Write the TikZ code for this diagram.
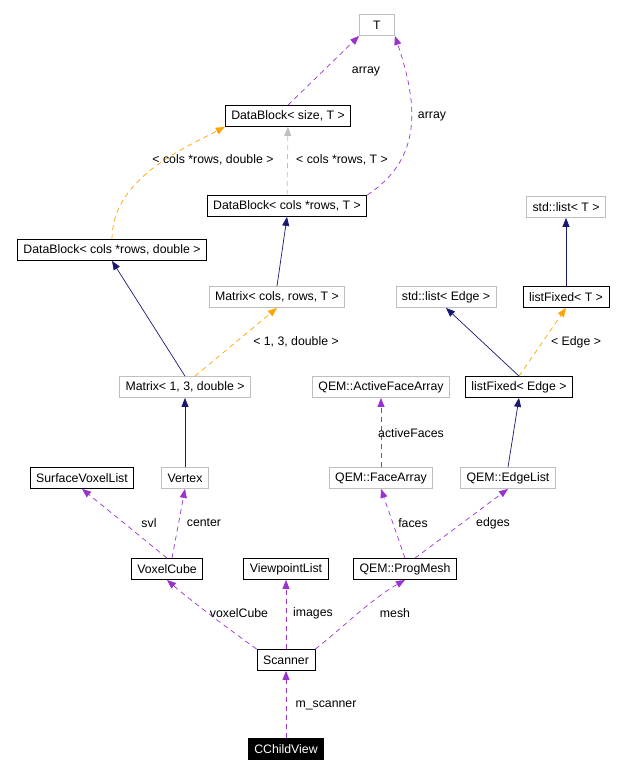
\documentclass[tikz,border=0pt]{standalone}
\usepackage{fontspec}
\setmainfont{Liberation Sans}
\usetikzlibrary{arrows.meta}
\definecolor{pur}{HTML}{9A32CD}
\definecolor{nav}{HTML}{191970}
\definecolor{org}{HTML}{FFA500}
\definecolor{gr}{HTML}{BFBFBF}
\begin{document}
\begin{tikzpicture}[x=1pt,y=-1pt,font=\fontsize{12.3}{14}\selectfont,
  b/.style={draw=black,minimum height=21pt,inner xsep=6pt,inner ysep=2.5pt,line width=0.8pt},
  g/.style={draw=gr,minimum height=21pt,inner xsep=6pt,inner ysep=2.5pt,line width=0.8pt},
  tip/.style={-{Triangle[length=9pt,width=7pt]}},
  use/.style={tip,draw=pur,dash pattern=on 5pt off 4pt,line width=0.7pt},
  inh/.style={tip,draw=nav,line width=0.7pt},
  tpl/.style={tip,draw=org,dash pattern=on 5pt off 4pt,line width=0.7pt},
  tplg/.style={tip,draw=gr,dash pattern=on 5pt off 4pt,line width=0.7pt}]
\useasboundingbox (0,0) rectangle (623,774);
\node[g,minimum width=35pt] (T) at (377,25) {T};
\node[b] (DBs) at (288,116) {DataBlock< size, T >};
\node[b] (DBc) at (287,206) {DataBlock< cols *rows, T >};
\node[b] (DBd) at (112,250) {DataBlock< cols *rows, double >};
\node[g] (slT) at (566,207) {std::list< T >};
\node[g] (Mcr) at (277,297) {Matrix< cols, rows, T >};
\node[g] (slE) at (446,297) {std::list< Edge >};
\node[b] (lfT) at (566,297) {listFixed< T >};
\node[g] (M13) at (185,387) {Matrix< 1, 3, double >};
\node[g] (AFA) at (381,387) {QEM::ActiveFaceArray};
\node[b] (lfE) at (519,387) {listFixed< Edge >};
\node[b] (SVL) at (82,478) {SurfaceVoxelList};
\node[g] (Vx) at (185,478) {Vertex};
\node[g] (FA) at (381,478) {QEM::FaceArray};
\node[g] (EL) at (508,478) {QEM::EdgeList};
\node[b] (VC) at (167,569) {VoxelCube};
\node[b] (VL) at (286,569) {ViewpointList};
\node[b] (PM) at (405,569) {QEM::ProgMesh};
\node[b] (Sc) at (286,660) {Scanner};
\node[b,fill=black,text=white] (CV) at (286,749) {CChildView};

\draw[use] (DBs.north) -- (T.south west);
\node at (366,71) {array};
\draw[use] (DBc.north east) .. controls (420,160) and (420,110) .. (T.south east);
\node at (432,116) {array};
\draw[tplg] (DBc) -- (DBs);
\node at (342,160) {< cols *rows, T >};
\draw[tpl] (DBd.north) .. controls (112,180) and (180,150) .. (DBs.south west);
\node at (213,160) {< cols *rows, double >};
\draw[inh] (Mcr.north) -- (DBc.south);
\draw[inh] (M13.north) -- (DBd.south);
\draw[tpl] (M13.north) ++(10,0) -- (Mcr.south);
\node at (296,342) {< 1, 3, double >};
\draw[inh] (lfT) -- (slT);
\draw[inh] (lfE.north) -- (slE.south);
\draw[tpl] (lfE.north) -- (lfT.south);
\node at (576,342) {< Edge >};
\draw[inh] (Vx) -- (M13);
\draw[use] (FA) -- (AFA);
\node at (411,433) {activeFaces};
\draw[inh] (EL.north) -- (lfE.south);
\draw[use] (VC.north) -- (SVL.south);
\node at (149,523) {svl};
\draw[use] (VC.north) ++(5,0) -- (Vx.south);
\node at (204,523) {center};
\draw[use] (PM.north) -- (FA.south);
\node at (413,523) {faces};
\draw[use] (PM.north) ++(10,0) -- (EL.south);
\node at (493,523) {edges};
\draw[use] (Sc.north west) .. controls (230,630) and (190,600) .. (VC.south);
\node at (239,613) {voxelCube};
\draw[use] (Sc) -- (VL);
\node at (313,613) {images};
\draw[use] (Sc.north east) .. controls (340,630) and (370,600) .. (PM.south);
\node at (395,613) {mesh};
\draw[use] (CV) -- (Sc);
\node at (326,705) {m\_scanner};
\end{tikzpicture}
\end{document}
